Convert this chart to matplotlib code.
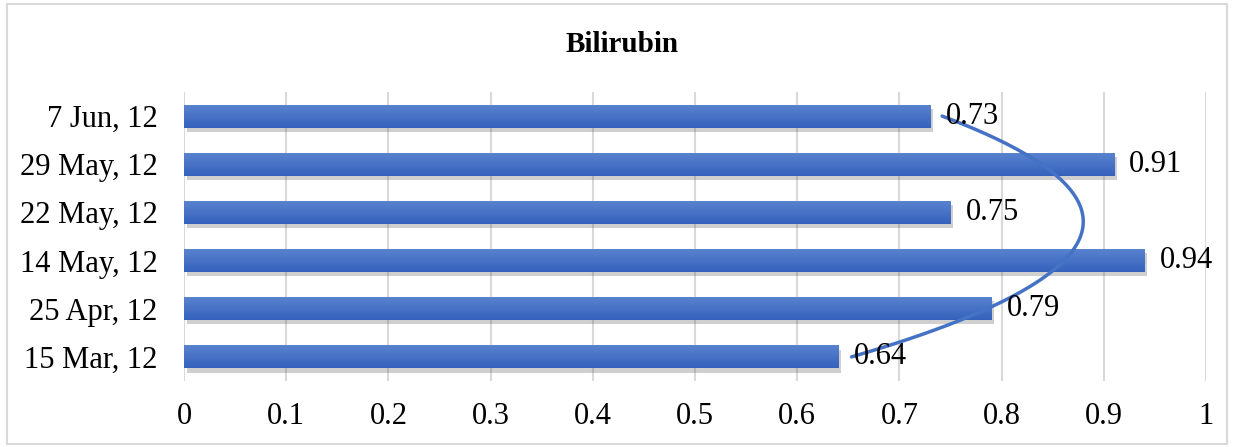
import numpy as np
import matplotlib
matplotlib.use("Agg")
import matplotlib.pyplot as plt
import matplotlib.patheffects as pe
from matplotlib.patches import Rectangle

plt.rcParams['font.family'] = ['Liberation Serif', 'DejaVu Serif']

dates = ['15 Mar, 12', '25 Apr, 12', '14 May, 12', '22 May, 12', '29 May, 12', '7 Jun, 12']
bilirubin = [0.64, 0.79, 0.94, 0.75, 0.91, 0.73]
xticks = [0, 0.1, 0.2, 0.3, 0.4, 0.5, 0.6, 0.7, 0.8, 0.9, 1]

fig = plt.figure(figsize=(12.34, 4.47), dpi=100)
ax = fig.add_axes([0.1491, 0.1477, 0.8282, 0.6465])

pos = np.arange(len(dates))
bars = ax.barh(pos, bilirubin, height=0.48, color='#4472C4', zorder=3,
               path_effects=[pe.SimplePatchShadow(offset=(2, -3), alpha=0.28, shadow_rgbFace='#555555'),
                             pe.Normal()])

# vertical gradient on each bar, lighter on top
grad = np.linspace(0, 1, 64).reshape(-1, 1)
cmap = matplotlib.colors.LinearSegmentedColormap.from_list('bar', ['#3562BC', '#5A84D0'])
for b in bars:
    x0, y0, w, h = b.get_x(), b.get_y(), b.get_width(), b.get_height()
    im = ax.imshow(grad, extent=[x0, x0 + w, y0, y0 + h], origin='lower', cmap=cmap,
                   aspect='auto', zorder=4)
    im.set_clip_path(b)

for p, v in zip(pos, bilirubin):
    ax.text(v + 0.015, p, f'{v:g}', va='center', ha='left', fontsize=22, zorder=6)

# second order polynomial trendline through the series
coef = np.polyfit(pos + 1, bilirubin, 2)
tt = np.linspace(1, len(dates), 200)
ax.plot(np.polyval(coef, tt), tt - 1, color='#4472C4', lw=2.5, zorder=5, solid_capstyle='round')

ax.set_xlim(0, 1)
ax.set_ylim(-0.5, len(dates) - 0.5)
ax.set_xticks(xticks)
ax.set_xticklabels([f'{t:g}' for t in xticks])
ax.set_yticks(pos)
ax.set_yticklabels(dates)
ax.tick_params(axis='both', length=0, labelsize=22)
ax.tick_params(axis='x', pad=15)
ax.tick_params(axis='y', pad=19)
ax.grid(axis='x', color='#D9D9D9', lw=1.5, zorder=0)
for s in ax.spines.values():
    s.set_visible(False)
ax.set_facecolor('none')

fig.text(0.504, 0.9, 'Bilirubin', ha='center', va='center', fontsize=21, fontweight='bold')
fig.patches.append(Rectangle((0.006, 0.006), 0.988, 0.984, transform=fig.transFigure,
                             fill=False, edgecolor='#D9D9D9', lw=1.5))

fig.savefig('out.png', dpi=100)
